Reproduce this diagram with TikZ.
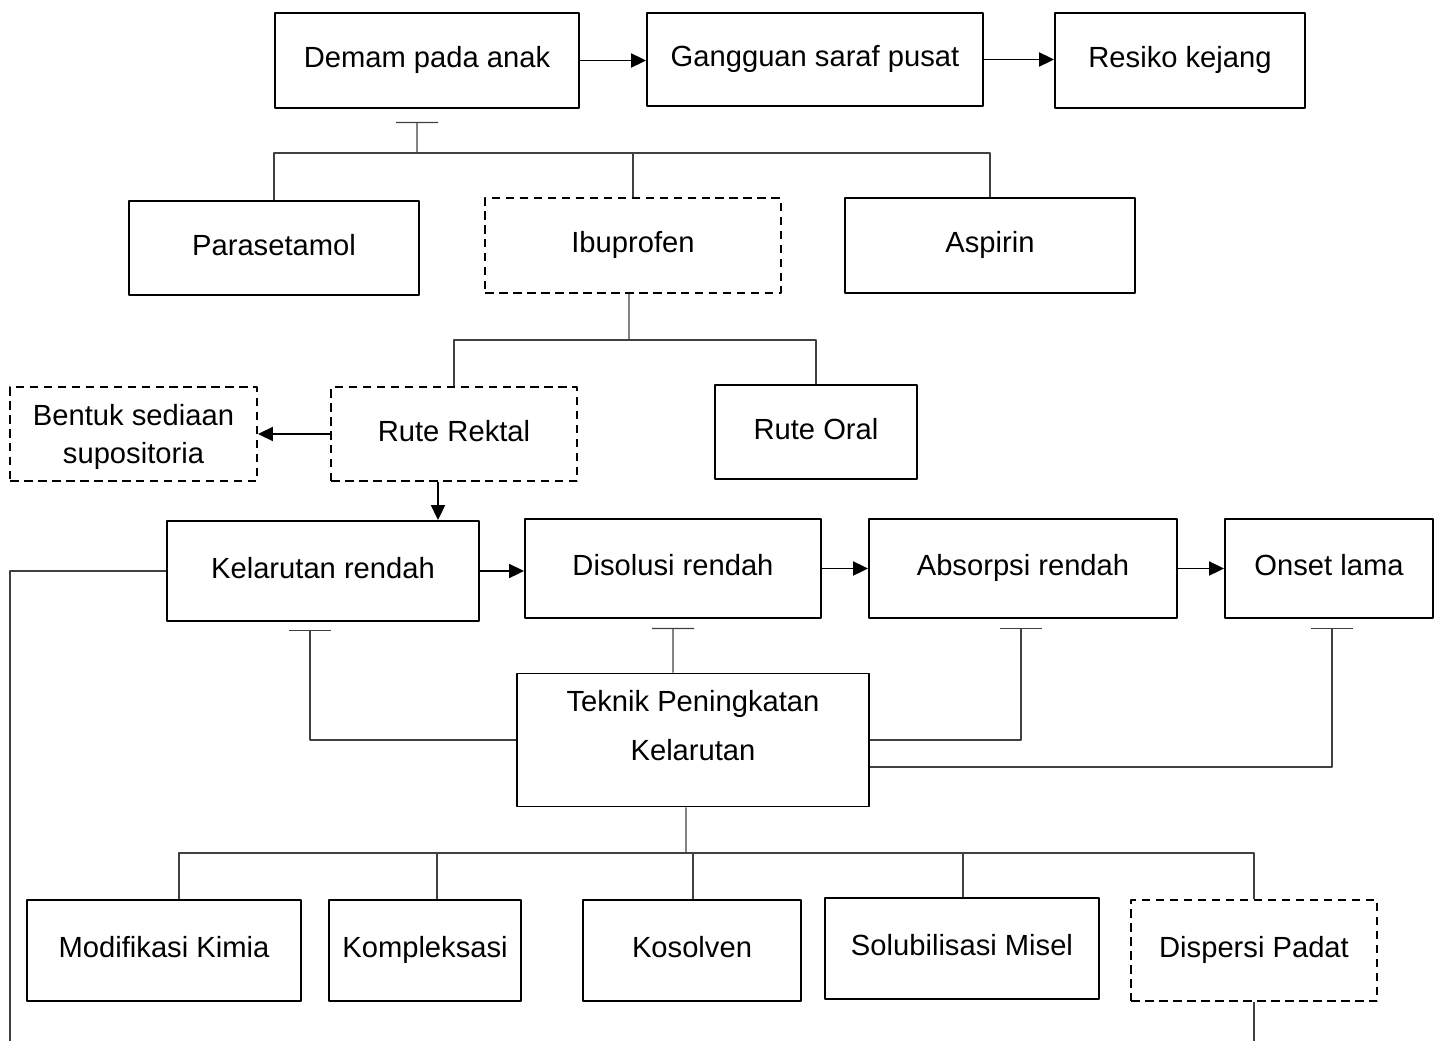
\documentclass[tikz,border=0pt]{standalone}
\usepackage{fontspec}
\setmainfont{Liberation Sans}
\usetikzlibrary{arrows.meta,calc}

\begin{document}
\begin{tikzpicture}[x=0.02cm, y=-0.02cm, font=\fontsize{16.6pt}{22pt}\selectfont, line join=round, >={Triangle[length=0.3cm,width=0.28cm]}]
	\tikzset{box/.style={draw, line width=1.1pt, inner sep=0pt, align=center, text height=12pt, text depth=4pt},
		dbox/.style={box, dash pattern=on 0.17cm off 0.11cm},
		arr/.style={->, line width=1.1pt},
		tree/.style={line width=0.6pt, black!75},
		tbar/.style={tree, -{Bar[width=0.84cm]}}}
	
	\useasboundingbox (0,0) rectangle (1442,1041);
	
	% top row
	\node[box, minimum width=6.08cm, minimum height=1.9cm] (demam) at (427,60.5) {Demam pada anak};
	\node[box, minimum width=6.72cm, minimum height=1.86cm] (saraf) at (815,59.5) {Gangguan saraf pusat};
	\node[box, minimum width=5.0cm, minimum height=1.9cm] (kejang) at (1180,60.5) {Resiko kejang};
	
	% obat
	\node[box, minimum width=5.8cm, minimum height=1.88cm] (para) at (274,248) {Parasetamol};
	\node[dbox, minimum width=5.92cm, minimum height=1.9cm] (ibu) at (633,245.5) {Ibuprofen};
	\node[box, minimum width=5.8cm, minimum height=1.9cm] (asp) at (990,245.5) {Aspirin};
	
	% rute
	\node[dbox, minimum width=4.94cm, minimum height=1.88cm, text height=, text depth=0pt] (supo) at (133.5,434) {Bentuk sediaan\\supositoria};
	\node[dbox, minimum width=4.92cm, minimum height=1.88cm] (rektal) at (454,434) {Rute Rektal};
	\node[box, minimum width=4.04cm, minimum height=1.88cm] (oral) at (816,432) {Rute Oral};
	
	% masalah
	\node[box, minimum width=6.24cm, minimum height=2.0cm] (kel) at (323,571) {Kelarutan rendah};
	\node[box, minimum width=5.92cm, minimum height=1.98cm] (dis) at (673,568.5) {Disolusi rendah};
	\node[box, minimum width=6.16cm, minimum height=1.98cm] (abs) at (1023,568.5) {Absorpsi rendah};
	\node[box, minimum width=4.16cm, minimum height=1.98cm] (onset) at (1329,568.5) {Onset lama};
	
	\node[box, minimum width=7.04cm, minimum height=2.66cm, text height=, text depth=0.58cm] (teknik) at (693,740) {Teknik Peningkatan\\[6pt]Kelarutan};
	
	% teknik
	\node[box, minimum width=5.48cm, minimum height=2.02cm] (kimia) at (164,950.5) {Modifikasi Kimia};
	\node[box, minimum width=3.84cm, minimum height=2.02cm] (komp) at (425,950.5) {Kompleksasi};
	\node[box, minimum width=4.36cm, minimum height=2.02cm] (kos) at (692,950.5) {Kosolven};
	\node[box, minimum width=5.48cm, minimum height=2.02cm] (misel) at (962,948.5) {Solubilisasi Misel};
	\node[dbox, minimum width=4.92cm, minimum height=2.02cm] (padat) at (1254,950.5) {Dispersi Padat};
	
	\coordinate (jdemam) at (417,153);
	\coordinate (jibu) at (629,340);
	\coordinate (jtek) at (686,853);
	\coordinate (kiri) at (10,1041);
	\coordinate (bawah) at (1255,1041);
	
	% panah
	\draw[arr] (demam.east) -- (demam.east -| saraf.west);
	\draw[arr] (saraf.east) -- (saraf.east -| kejang.west);
	\draw[arr] (rektal.west) -- (rektal.west -| supo.east);
	\draw[arr] ([xshift=-0.32cm]rektal.south) -- ([xshift=-0.32cm]rektal.south |- kel.north);
	\draw[arr] (kel.east) -- (kel.east -| dis.west);
	\draw[arr] (dis.east) -- (dis.east -| abs.west);
	\draw[arr] (abs.east) -- (abs.east -| onset.west);
	
	% cabang
	\draw[tbar] (jdemam) -- ([xshift=-0.2cm,yshift=-0.26cm]demam.south);
	\draw[tree] (para.north) |- (jdemam) -| (asp.north);
	\draw[tree] (jdemam -| ibu.north) -- (ibu.north);
	\draw[tree] ([xshift=-0.08cm]ibu.south) -- (jibu);
	\draw[tree] (rektal.north) |- (jibu) -| (oral.north);
	
	\draw[tbar] ([yshift=0cm]teknik.west) -| ([xshift=-0.26cm,yshift=-0.16cm]kel.south);
	\draw[tbar] ([xshift=-0.4cm]teknik.north) -- ([yshift=-0.18cm]dis.south);
	\draw[tbar] ([yshift=0cm]teknik.east) -| ([xshift=-0.04cm,yshift=-0.18cm]abs.south);
	\draw[tbar] ([yshift=-0.54cm]teknik.east) -| ([xshift=0.06cm,yshift=-0.18cm]onset.south);
	
	\draw[tree] ([xshift=-0.14cm]teknik.south) -- (jtek);
	\draw[tree] ([xshift=0.3cm]kimia.north) |- (jtek) -| (padat.north);
	\foreach \n/\dx in {komp/0.24, kos/0.02, misel/0.02}
		\draw[tree] ([xshift=\dx cm]\n.north) -- ([xshift=\dx cm]\n.north |- jtek);
	
	\draw[tree] (kel.west) -| (kiri);
	\draw[tree] (padat.south) -- (padat.south |- bawah);
\end{tikzpicture}
\end{document}
